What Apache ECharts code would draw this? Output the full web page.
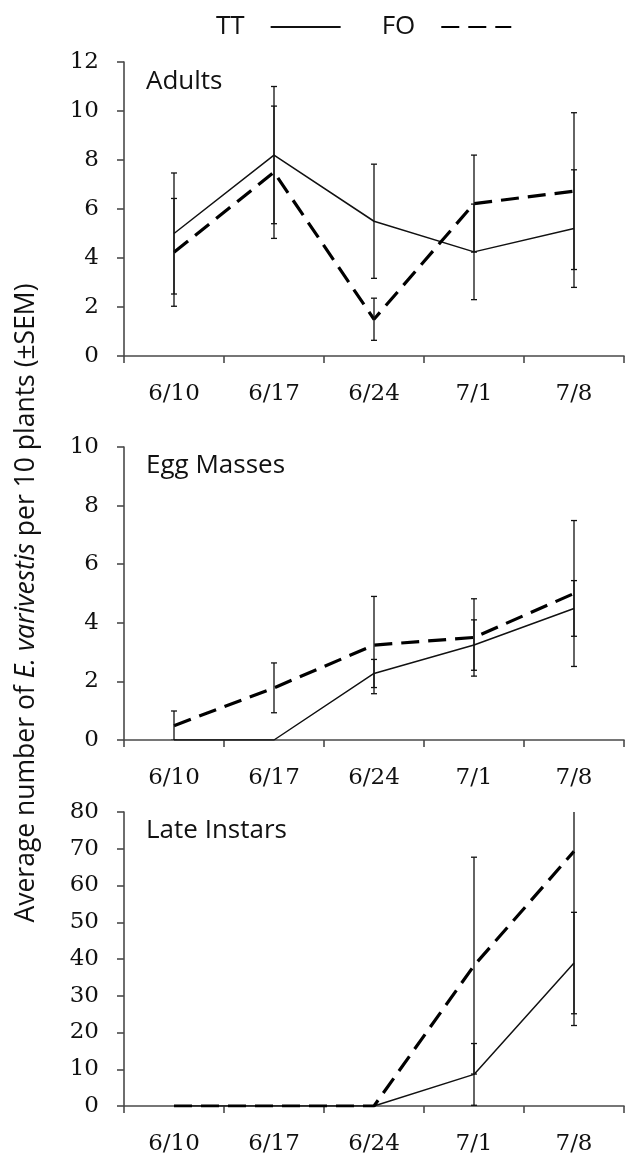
<!DOCTYPE html>
<html>
<head>
<meta charset="utf-8">
<script src="https://cdn.jsdelivr.net/npm/echarts@6/dist/echarts.min.js"></script>
<style>html,body{margin:0;padding:0;background:#fff;}#c{width:635px;height:1156px;}</style>
</head>
<body>
<div id="c"></div>
<script>
const dates = ['6/10', '6/17', '6/24', '7/1', '7/8'];
const panelNames = ['Adults', 'Egg Masses', 'Late Instars'];
const yMax = [12, 10, 80];
const yInterval = [2, 2, 10];

const adultsTT = [5.0, 8.2, 5.5, 4.25, 5.2];
const adultsTTsem = [2.47, 2.8, 2.33, 1.95, 2.4];
const adultsFO = [4.23, 7.5, 1.5, 6.22, 6.73];
const adultsFOsem = [2.2, 2.7, 0.86, 1.98, 3.2];

const eggTT = [0, 0, 2.27, 3.24, 4.49];
const eggTTsem = [0, 0, 0.48, 0.86, 0.95];
const eggFO = [0.49, 1.78, 3.24, 3.5, 5.0];
const eggFOsem = [0.5, 0.85, 1.66, 1.32, 2.49];

const lateTT = [0, 0, 0, 8.6, 38.9];
const lateTTsem = [0, 0, 0, 8.4, 13.8];
const lateFO = [0, 0, 0, 38.2, 69.3];
const lateFOsem = [0, 0, 0, 29.5, 47.4];

const ttSets = [[adultsTT, adultsTTsem], [eggTT, eggTTsem], [lateTT, lateTTsem]];
const foSets = [[adultsFO, adultsFOsem], [eggFO, eggFOsem], [lateFO, lateFOsem]];

const grids = [
  {left: 124, right: 11, top: 62, height: 294},
  {left: 124, right: 11, top: 447, height: 293},
  {left: 124, right: 11, top: 812, height: 295}
];
const titleTops = [69, 453, 818];

const axisColor = '#4a4a4a';
const sansFont = 'Open Sans';
const tickFont = 'DejaVu Serif';

function errRender(params, api) {
  const x = api.value(0), y = api.value(1), e = api.value(2);
  if (!e) return {type: 'group', children: []};
  const hi = api.coord([x, y + e]);
  const lo = api.coord([x, y - e]);
  const w = 3;
  const st = {stroke: '#111', lineWidth: 1.3};
  return {
    type: 'group',
    children: [
      {type: 'line', shape: {x1: hi[0], y1: hi[1], x2: lo[0], y2: lo[1]}, style: st},
      {type: 'line', shape: {x1: hi[0] - w, y1: hi[1], x2: hi[0] + w, y2: hi[1]}, style: st},
      {type: 'line', shape: {x1: lo[0] - w, y1: lo[1], x2: lo[0] + w, y2: lo[1]}, style: st}
    ]
  };
}

const xAxes = [], yAxes = [], series = [], titles = [];
for (let i = 0; i < 3; i++) {
  xAxes.push({
    type: 'category', gridIndex: i, data: dates, boundaryGap: true,
    axisLine: {lineStyle: {color: axisColor, width: 1.6}},
    axisTick: {show: true, interval: 0, length: 7, lineStyle: {color: axisColor, width: 1.6}},
    axisLabel: {color: '#111', fontFamily: tickFont, fontSize: 23, margin: 27, interval: 0},
    splitLine: {show: false}
  });
  yAxes.push({
    type: 'value', gridIndex: i, min: 0, max: yMax[i], interval: yInterval[i],
    axisLine: {show: true, lineStyle: {color: axisColor, width: 1.6}},
    axisTick: {show: true, length: 7, lineStyle: {color: axisColor, width: 1.6}},
    axisLabel: {color: '#111', fontFamily: tickFont, fontSize: 23, margin: 25},
    splitLine: {show: false}
  });
  titles.push({
    text: panelNames[i], left: 146, top: titleTops[i], padding: 0,
    textStyle: {fontFamily: sansFont, fontSize: 26, fontWeight: 'normal', color: '#111'}
  });
  const [tv, ts] = ttSets[i];
  const [fv, fs] = foSets[i];
  series.push({
    name: 'TT', type: 'line', xAxisIndex: i, yAxisIndex: i, data: tv, color: '#111',
    symbol: 'none', lineStyle: {color: '#111', width: 1.5, type: 'solid'}, z: 3
  });
  series.push({
    name: 'FO', type: 'line', xAxisIndex: i, yAxisIndex: i, data: fv, color: '#000',
    symbol: 'none', lineStyle: {color: '#000', width: 3.2, type: [18, 9]}, z: 3
  });
  series.push({
    name: 'TTerr', type: 'custom', xAxisIndex: i, yAxisIndex: i, clip: true,
    renderItem: errRender, encode: {x: 0, y: 1},
    data: dates.map((d, k) => [k, tv[k], ts[k]]), z: 4
  });
  series.push({
    name: 'FOerr', type: 'custom', xAxisIndex: i, yAxisIndex: i, clip: true,
    renderItem: errRender, encode: {x: 0, y: 1},
    data: dates.map((d, k) => [k, fv[k], fs[k]]), z: 4
  });
}

const chart = echarts.init(document.getElementById('c'), null, {renderer: 'canvas'});
chart.setOption({
  animation: false,
  backgroundColor: '#fff',
  title: titles,
  legend: {
    data: ['TT', 'FO'], left: 211, top: 9, align: 'right',
    itemWidth: 70, itemHeight: 14, itemGap: 40,
    selectedMode: false,
    itemStyle: {opacity: 0},
    textStyle: {fontFamily: sansFont, fontSize: 26, color: '#111', padding: [0, 21, 0, 0]}
  },
  grid: grids,
  xAxis: xAxes,
  yAxis: yAxes,
  series: series,
  graphic: [{
    type: 'text', x: 26, y: 603, rotation: Math.PI / 2,
    style: {
      text: '{a|Average number of }{b|E. varivestis}{a| per 10 plants (±SEM)}',
      align: 'center', verticalAlign: 'middle',
      rich: {
        a: {fontFamily: sansFont, fontSize: 26.5, fill: '#111'},
        b: {fontFamily: sansFont, fontSize: 26.5, fontStyle: 'italic', fill: '#111'}
      }
    }
  }]
});
</script>
</body>
</html>
